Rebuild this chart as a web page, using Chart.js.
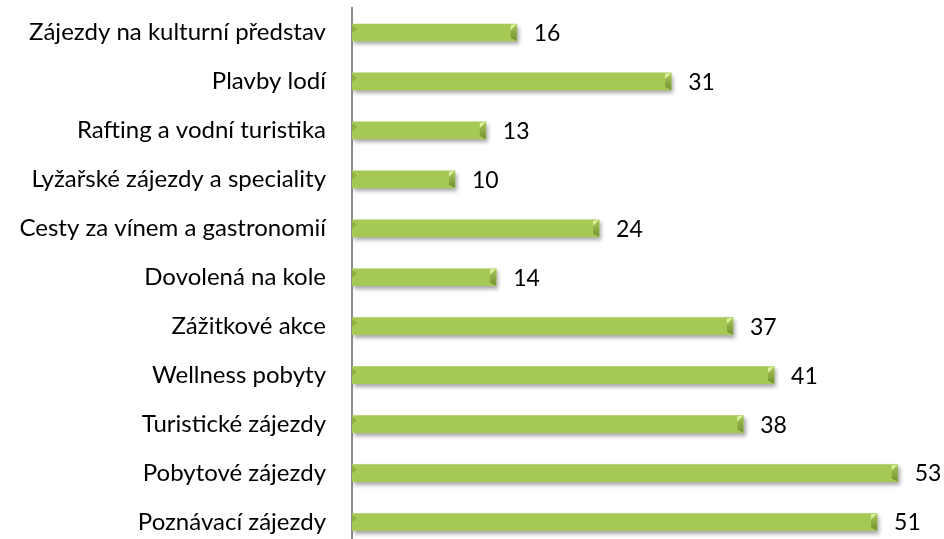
<!DOCTYPE html>
<html>
<head>
<meta charset="utf-8">
<script src="https://cdn.jsdelivr.net/npm/chart.js@4"></script>
<style>
html,body{margin:0;padding:0;background:#fff;overflow:hidden;}
canvas{display:block;}
</style>
</head>
<body>
<canvas id="c" width="944" height="560"></canvas>
<script>
const categories = [
  "Zájezdy na kulturní představ",
  "Plavby lodí",
  "Rafting a vodní turistika",
  "Lyžařské zájezdy a speciality",
  "Cesty za vínem a gastronomií",
  "Dovolená na kole",
  "Zážitkové akce",
  "Wellness pobyty",
  "Turistické zájezdy",
  "Pobytové zájezdy",
  "Poznávací zájezdy"
];
const values = [16, 31, 13, 10, 24, 14, 37, 41, 38, 53, 51];
const axisMax = 57.5;

const FONT = "Lato, 'Open Sans', sans-serif";

function barGradient(ctx, el) {
  const c = ctx.chart.ctx;
  const top = el.y - el.height / 2, bot = el.y + el.height / 2;
  const g = c.createLinearGradient(0, top, 0, bot);
  g.addColorStop(0, '#c8e184');
  g.addColorStop(0.08, '#e2f3a6');
  g.addColorStop(0.25, '#d0eb7a');
  g.addColorStop(0.55, '#b0d05a');
  g.addColorStop(0.85, '#8fae42');
  g.addColorStop(1, '#6c882e');
  return g;
}

const shadowPlugin = {
  id: 'shadow',
  beforeDatasetDraw(chart) {
    const c = chart.ctx;
    c.save();
    c.shadowColor = 'rgba(0,0,0,0.35)';
    c.shadowBlur = 4;
    c.shadowOffsetX = 2;
    c.shadowOffsetY = 3;
  },
  afterDatasetDraw(chart) {
    chart.ctx.restore();
  }
};

const bevelPlugin = {
  id: 'bevel',
  afterDatasetsDraw(chart) {
    const c = chart.ctx;
    const meta = chart.getDatasetMeta(0);
    c.save();
    meta.data.forEach((bar, i) => {
      const x0 = bar.base, x1 = bar.x;
      const h = bar.height;
      const top = bar.y - h / 2, bot = bar.y + h / 2;
      const b = 6;
      const g = c.createLinearGradient(0, top, 0, bot);
      g.addColorStop(0, '#a9c958');
      g.addColorStop(1, '#738f31');
      c.fillStyle = g;
      c.beginPath();
      c.moveTo(x1 - b, top + b); c.lineTo(x1, top); c.lineTo(x1, bot); c.lineTo(x1 - b, bot - 3); c.closePath();
      c.fill();
      c.fillStyle = 'rgba(226,244,165,0.95)';
      c.beginPath();
      c.moveTo(x1 - b, top + 1); c.lineTo(x1, top); c.lineTo(x1 - b, top + b); c.closePath();
      c.fill();
      c.fillStyle = 'rgba(120,150,50,0.5)';
      c.beginPath();
      c.moveTo(x0, top + 1); c.lineTo(x0 + 5, top + 5); c.lineTo(x0, top + 9); c.closePath();
      c.fill();
    });
    c.fillStyle = '#000';
    c.font = "23px " + FONT;
    c.textBaseline = 'middle';
    c.textAlign = 'left';
    meta.data.forEach((bar, i) => {
      c.fillText(String(values[i]), bar.x + 17, bar.y + 1);
    });
    c.restore();
  }
};

new Chart(document.getElementById('c'), {
  type: 'bar',
  data: {
    labels: categories,
    datasets: [{
      data: values,
      backgroundColor: (ctx) => {
        const el = ctx.element;
        if (!el || !isFinite(el.y) || !isFinite(el.height)) return '#a6c956';
        return barGradient(ctx, el);
      },
      borderWidth: 0,
      barThickness: 17
    }]
  },
  options: {
    indexAxis: 'y',
    responsive: false,
    animation: false,
    layout: { padding: { top: 8, bottom: 13.5, left: 0, right: 0 } },
    plugins: { legend: { display: false }, tooltip: { enabled: false } },
    scales: {
      x: {
        display: false,
        min: 0,
        max: axisMax
      },
      y: {
        afterFit(scale) {
          scale.width = 352;
          scale.paddingTop = 0;
          scale.paddingBottom = 0;
        },
        grid: { display: false, drawTicks: false },
        border: { display: true, color: '#8c8c8c', width: 2 },
        ticks: {
          color: '#000',
          padding: 26,
          font: { family: FONT, size: 24 }
        }
      }
    }
  },
  plugins: [shadowPlugin, bevelPlugin]
});
</script>
</body>
</html>
